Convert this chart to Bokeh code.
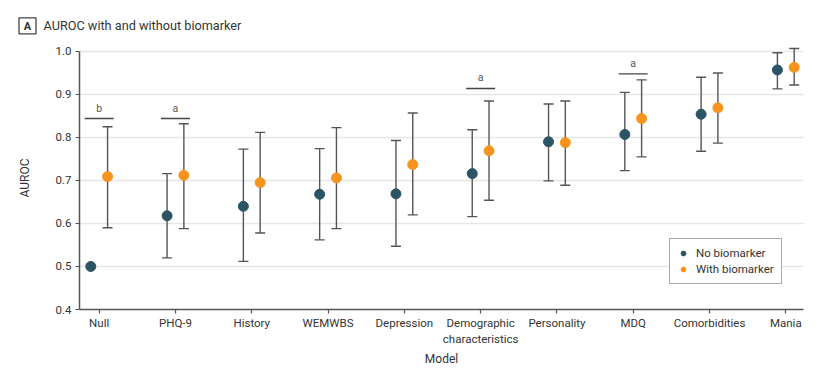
from bokeh.plotting import figure
from bokeh.layouts import column
from bokeh.models import (ColumnDataSource, Whisker, TeeHead, Range1d, FixedTicker,
                          Legend, LegendItem, NumeralTickFormatter)
from bokeh.core.properties import value
from bokeh.embed import file_html
from bokeh.resources import INLINE

models = ["Null", "PHQ-9", "History", "WEMWBS", "Depression",
          "Demographic\ncharacteristics", "Personality", "MDQ", "Comorbidities", "Mania"]

no_bio = [0.500, 0.618, 0.640, 0.668, 0.669, 0.716, 0.790, 0.807, 0.854, 0.957]
no_bio_lo = [None, 0.520, 0.512, 0.562, 0.547, 0.616, 0.699, 0.723, 0.768, 0.913]
no_bio_hi = [None, 0.716, 0.773, 0.774, 0.793, 0.818, 0.878, 0.905, 0.940, 0.997]

with_bio = [0.709, 0.712, 0.695, 0.706, 0.737, 0.769, 0.788, 0.844, 0.869, 0.963]
with_bio_lo = [0.590, 0.588, 0.578, 0.588, 0.620, 0.654, 0.689, 0.755, 0.787, 0.922]
with_bio_hi = [0.825, 0.832, 0.812, 0.823, 0.857, 0.885, 0.885, 0.934, 0.950, 1.007]

sig_index = [0, 1, 5, 7]
sig_labels = ["b", "a", "a", "a"]
sig_y = [0.844, 0.844, 0.914, 0.948]

y_ticks = [0.4, 0.5, 0.6, 0.7, 0.8, 0.9, 1.0]

panel_letter = ["A"]
title_text = ["AUROC with and without biomarker"]

FONT = "Roboto"
TXT = "#333333"
C_NO = "#2b5464"
C_WITH = "#f7941d"
ERR = "#555555"
OFF = 0.11
W = 823
HEAD_H = 36

idx = list(range(len(models)))

# ---- header (panel letter box + title)
h = figure(width=W, height=HEAD_H, output_backend="svg", toolbar_location=None,
           x_range=Range1d(0, W), y_range=Range1d(HEAD_H, 0),
           min_border=0, x_axis_type=None, y_axis_type=None)
h.frame_align = False
h.outline_line_color = None
h.xgrid.grid_line_color = None
h.ygrid.grid_line_color = None
h.rect(x=[27], y=[25.3], width=17, height=16, fill_color="white",
       line_color="#444444", line_width=1.3)
h.text(x=[27], y=[25.6], text=panel_letter, text_font=value(FONT), text_font_size="11px",
       text_font_style="bold", text_color=TXT, text_align="center", text_baseline="middle")
h.text(x=[43], y=[25.3], text=title_text, text_font=value(FONT), text_font_size="12.7px",
       text_color=TXT, text_align="left", text_baseline="middle")

# ---- main plot
p = figure(width=W, height=334, output_backend="svg", toolbar_location=None,
           x_range=Range1d(-0.258, 9.232), y_range=Range1d(0.4, 1.0116),
           min_border_left=79, min_border_right=20, min_border_top=10,
           min_border_bottom=61)
p.frame_align = False
p.outline_line_color = None
p.background_fill_color = "white"
p.border_fill_color = "white"

p.xaxis.ticker = FixedTicker(ticks=idx)
p.xaxis.major_label_overrides = {i: m for i, m in zip(idx, models)}
p.yaxis.ticker = FixedTicker(ticks=y_ticks)
p.yaxis.formatter = NumeralTickFormatter(format="0.0")
p.yaxis.bounds = (0.4, 1.0)
for ax in (p.xaxis[0], p.yaxis[0]):
    ax.axis_line_color = "#555555"
    ax.axis_line_width = 1.5
    ax.major_tick_line_color = "#555555"
    ax.major_tick_line_width = 1.2
    ax.major_tick_out = 4
    ax.major_tick_in = 0
    ax.minor_tick_line_color = None
    ax.major_label_text_font = FONT
    ax.major_label_text_font_size = "11.5px"
    ax.major_label_text_color = TXT
    ax.axis_label_text_font = FONT
    ax.axis_label_text_font_size = "12px"
    ax.axis_label_text_font_style = "normal"
    ax.axis_label_text_color = TXT
p.xaxis.axis_label = "Model"
p.yaxis.axis_label = "AUROC"
p.xaxis.major_label_standoff = 2
p.yaxis.major_label_standoff = 4
p.xaxis.axis_label_standoff = 3
p.yaxis.axis_label_standoff = 21
p.xgrid.grid_line_color = None
p.ygrid.grid_line_color = "#e6e6e6"
p.ygrid.grid_line_width = 1.5

# error bars
wx, wlo, whi = [], [], []
for i in idx:
    if no_bio_lo[i] is not None:
        wx.append(i - OFF); wlo.append(no_bio_lo[i]); whi.append(no_bio_hi[i])
    wx.append(i + OFF); wlo.append(with_bio_lo[i]); whi.append(with_bio_hi[i])
wsrc = ColumnDataSource(dict(x=wx, lo=wlo, hi=whi))
wh = Whisker(source=wsrc, base="x", lower="lo", upper="hi", dimension="height",
             line_color=ERR, line_width=1.4,
             upper_head=TeeHead(size=10, line_color=ERR, line_width=1.4),
             lower_head=TeeHead(size=10, line_color=ERR, line_width=1.4))
p.add_layout(wh)

src_no = ColumnDataSource(dict(x=[i - OFF for i in idx], y=no_bio))
src_with = ColumnDataSource(dict(x=[i + OFF for i in idx], y=with_bio))
r_no = p.scatter("x", "y", source=src_no, size=10, fill_color=C_NO, line_color=C_NO)
r_with = p.scatter("x", "y", source=src_with, size=10, fill_color=C_WITH, line_color=C_WITH)

# significance markers
sig_src = ColumnDataSource(dict(x0=[i - 0.19 for i in sig_index], x1=[i + 0.19 for i in sig_index],
                                xc=sig_index, y=sig_y, t=sig_labels))
p.segment(x0="x0", x1="x1", y0="y", y1="y", source=sig_src, line_color="#444444", line_width=1.4)
p.text(x="xc", y="y", text="t", source=sig_src, text_font=value(FONT), text_font_size="10.5px",
       text_color="#555555", text_align="center", text_baseline="bottom", y_offset=-4)

legend = Legend(items=[LegendItem(label="No biomarker", renderers=[r_no]),
                       LegendItem(label="With biomarker", renderers=[r_with])],
                location=(590, 25), border_line_color="#555555", border_line_width=1.2,
                background_fill_alpha=1, label_text_font=FONT, label_text_font_size="11.5px",
                label_text_color=TXT, glyph_width=12, glyph_height=14, label_standoff=7,
                padding=7, spacing=2, margin=0, label_height=14)
p.add_layout(legend, "center")

layout = column(h, p, spacing=0)
open("out.html", "w").write(file_html(layout, INLINE))
